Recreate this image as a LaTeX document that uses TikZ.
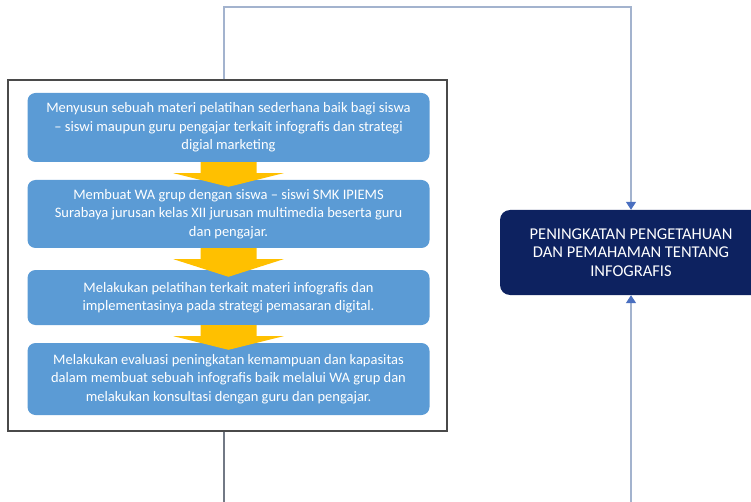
\documentclass[tikz,border=0pt]{standalone}
\usepackage{fontspec}
\setmainfont{Carlito}
\usetikzlibrary{arrows.meta,positioning,calc}

\definecolor{stepblue}{HTML}{5B9BD5}
\definecolor{goalnavy}{HTML}{0D2260}
\definecolor{flowyellow}{HTML}{FFC000}
\definecolor{linkgray}{HTML}{A3B3CE}
\definecolor{framegray}{HTML}{4A4A4A}
\definecolor{tipblue}{HTML}{4A6FC0}

\begin{document}
\begin{tikzpicture}[x=1pt,y=-1pt,
  stepbox/.style={rectangle,rounded corners=8pt,fill=stepblue,text=white,
    minimum width=402pt,align=center,inner sep=0pt,
    font=\fontsize{14.5}{18.5}\selectfont},
  goalbox/.style={rectangle,rounded corners=10pt,fill=goalnavy,text=white,
    minimum width=262pt,minimum height=85pt,align=center,inner sep=0pt,
    font=\fontsize{16.5}{18.5}\selectfont},
  link/.style={draw=linkgray,line width=1.4pt},
  tip/.style={-{Triangle[width=10pt,length=8pt,color=tipblue]}}]
\useasboundingbox (0,0) rectangle (751,502);

% frame round the steps
\node[draw=framegray,line width=1.2pt,minimum width=439pt,minimum height=351pt,inner sep=0pt] (frame) at (227.5,255.5) {};

% steps
\node[stepbox,minimum height=69pt] (b1) at (228.5,127.5)
  {Menyusun sebuah materi pelatihan sederhana baik bagi siswa\\ -- siswi maupun guru pengajar terkait infografis dan strategi\\ digial marketing};
\node[stepbox,minimum height=68pt] (b2) at (228.5,214)
  {Membuat WA grup dengan siswa -- siswi SMK IPIEMS\\ Surabaya jurusan kelas XII jurusan multimedia beserta guru\\ dan pengajar.};
\node[stepbox,minimum height=55pt] (b3) at (228.5,297.5)
  {Melakukan pelatihan terkait materi infografis dan\\ implementasinya pada strategi pemasaran digital.};
\node[stepbox,minimum height=72pt] (b4) at (228.5,379)
  {Melakukan evaluasi peningkatan kemampuan dan kapasitas\\ dalam membuat sebuah infografis baik melalui WA grup dan\\ melakukan konsultasi dengan guru dan pengajar.};

% yellow arrows between steps
\foreach \a/\b in {b1/b2,b2/b3,b3/b4}
  \fill[flowyellow] ([xshift=-28pt]\a.south) -- ++(0,11) -- ++(-27,0)
    -- ($(\b.north)+(0,7)$) -- ($([xshift=28pt]\a.south)+(27,11)$)
    -- ++(-27,0) -- ([xshift=28pt]\a.south) -- cycle;

% result
\node[goalbox] (goal) at (631,252.5)
  {PENINGKATAN PENGETAHUAN\\ DAN PEMAHAMAN TENTANG\\ INFOGRAFIS};

% connectors
\coordinate (topbend) at (631,7);
\coordinate (leftend) at (224,502);
\coordinate (rightend) at (631,502);
\draw[link,tip] ([xshift=-3.5pt]frame.north) |- (topbend) -- (goal.north);
\draw[draw=framegray!55!linkgray,line width=1.4pt] ([xshift=-3.5pt]frame.south) -- (leftend);
\draw[link,tip] (rightend) -- (goal.south);
\end{tikzpicture}
\end{document}
